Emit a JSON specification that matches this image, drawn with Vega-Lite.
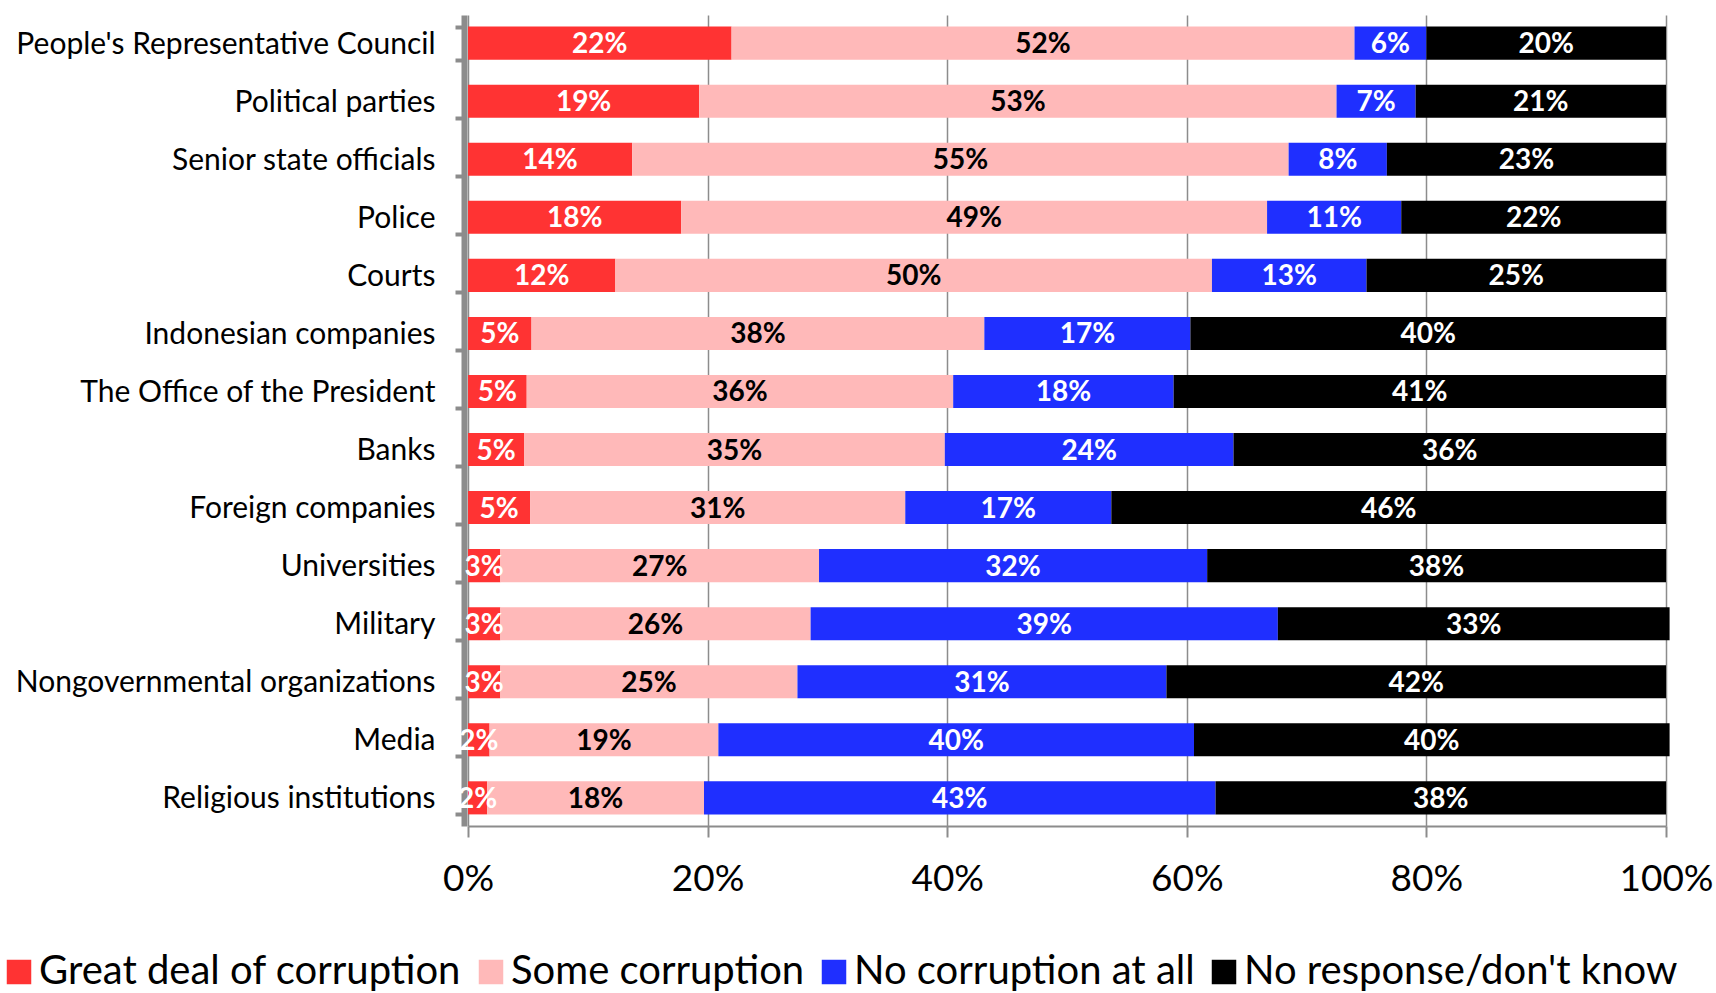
{
  "$schema": "https://vega.github.io/schema/vega-lite/v6.json",
  "width": 1198,
  "height": 811,
  "autosize": {"type": "none"},
  "padding": {"left": 468, "top": 15, "right": 50, "bottom": 167},
  "background": "white",
  "config": {"font": "Lato", "view": {"stroke": null}},
  "data": {"values": [
    {"org": "People's Representative Council", "cat": "Great deal of corruption", "v": 22.0},
    {"org": "People's Representative Council", "cat": "Some corruption", "v": 52.0},
    {"org": "People's Representative Council", "cat": "No corruption at all", "v": 6.0},
    {"org": "People's Representative Council", "cat": "No response/don't know", "v": 20.0},
    {"org": "Political parties", "cat": "Great deal of corruption", "v": 19.3},
    {"org": "Political parties", "cat": "Some corruption", "v": 53.2},
    {"org": "Political parties", "cat": "No corruption at all", "v": 6.6},
    {"org": "Political parties", "cat": "No response/don't know", "v": 20.9},
    {"org": "Senior state officials", "cat": "Great deal of corruption", "v": 13.7},
    {"org": "Senior state officials", "cat": "Some corruption", "v": 54.8},
    {"org": "Senior state officials", "cat": "No corruption at all", "v": 8.2},
    {"org": "Senior state officials", "cat": "No response/don't know", "v": 23.3},
    {"org": "Police", "cat": "Great deal of corruption", "v": 17.8},
    {"org": "Police", "cat": "Some corruption", "v": 48.9},
    {"org": "Police", "cat": "No corruption at all", "v": 11.2},
    {"org": "Police", "cat": "No response/don't know", "v": 22.1},
    {"org": "Courts", "cat": "Great deal of corruption", "v": 12.3},
    {"org": "Courts", "cat": "Some corruption", "v": 49.8},
    {"org": "Courts", "cat": "No corruption at all", "v": 12.9},
    {"org": "Courts", "cat": "No response/don't know", "v": 25.0},
    {"org": "Indonesian companies", "cat": "Great deal of corruption", "v": 5.3},
    {"org": "Indonesian companies", "cat": "Some corruption", "v": 37.8},
    {"org": "Indonesian companies", "cat": "No corruption at all", "v": 17.2},
    {"org": "Indonesian companies", "cat": "No response/don't know", "v": 39.7},
    {"org": "The Office of the President", "cat": "Great deal of corruption", "v": 4.9},
    {"org": "The Office of the President", "cat": "Some corruption", "v": 35.6},
    {"org": "The Office of the President", "cat": "No corruption at all", "v": 18.4},
    {"org": "The Office of the President", "cat": "No response/don't know", "v": 41.1},
    {"org": "Banks", "cat": "Great deal of corruption", "v": 4.7},
    {"org": "Banks", "cat": "Some corruption", "v": 35.1},
    {"org": "Banks", "cat": "No corruption at all", "v": 24.1},
    {"org": "Banks", "cat": "No response/don't know", "v": 36.1},
    {"org": "Foreign companies", "cat": "Great deal of corruption", "v": 5.2},
    {"org": "Foreign companies", "cat": "Some corruption", "v": 31.3},
    {"org": "Foreign companies", "cat": "No corruption at all", "v": 17.2},
    {"org": "Foreign companies", "cat": "No response/don't know", "v": 46.3},
    {"org": "Universities", "cat": "Great deal of corruption", "v": 2.7},
    {"org": "Universities", "cat": "Some corruption", "v": 26.6},
    {"org": "Universities", "cat": "No corruption at all", "v": 32.4},
    {"org": "Universities", "cat": "No response/don't know", "v": 38.3},
    {"org": "Military", "cat": "Great deal of corruption", "v": 2.7},
    {"org": "Military", "cat": "Some corruption", "v": 25.9},
    {"org": "Military", "cat": "No corruption at all", "v": 39.0},
    {"org": "Military", "cat": "No response/don't know", "v": 32.7},
    {"org": "Nongovernmental organizations", "cat": "Great deal of corruption", "v": 2.7},
    {"org": "Nongovernmental organizations", "cat": "Some corruption", "v": 24.8},
    {"org": "Nongovernmental organizations", "cat": "No corruption at all", "v": 30.8},
    {"org": "Nongovernmental organizations", "cat": "No response/don't know", "v": 41.7},
    {"org": "Media", "cat": "Great deal of corruption", "v": 1.8},
    {"org": "Media", "cat": "Some corruption", "v": 19.1},
    {"org": "Media", "cat": "No corruption at all", "v": 39.7},
    {"org": "Media", "cat": "No response/don't know", "v": 39.7},
    {"org": "Religious institutions", "cat": "Great deal of corruption", "v": 1.6},
    {"org": "Religious institutions", "cat": "Some corruption", "v": 18.1},
    {"org": "Religious institutions", "cat": "No corruption at all", "v": 42.7},
    {"org": "Religious institutions", "cat": "No response/don't know", "v": 37.6}
  ]},
  "transform": [
    {"calculate": "indexof(['Great deal of corruption','Some corruption','No corruption at all',\"No response/don't know\"], datum.cat)", "as": "k"},
    {"stack": "v", "groupby": ["org"], "sort": [{"field": "k", "order": "ascending"}], "as": ["v0", "v1"]},
    {"calculate": "(datum.v0 + datum.v1) / 2", "as": "mid"},
    {"calculate": "format(datum.v, '.0f') + '%'", "as": "lab"}
  ],
  "encoding": {
    "y": {
      "field": "org",
      "type": "nominal",
      "sort": ["People's Representative Council", "Political parties", "Senior state officials", "Police", "Courts", "Indonesian companies", "The Office of the President", "Banks", "Foreign companies", "Universities", "Military", "Nongovernmental organizations", "Media", "Religious institutions"],
      "scale": {"paddingInner": 0.43, "paddingOuter": 0.2},
      "axis": {
        "title": null,
        "offset": 4,
        "domainColor": "#8c8c8c",
        "domainWidth": 6,
        "tickBand": "extent",
        "tickColor": "#8c8c8c",
        "tickWidth": 4,
        "tickSize": 9,
        "labelPadding": 20,
        "labelFontSize": 30,
        "labelOffset": 1,
        "labelLimit": 0,
        "labelExpr": "datum.label == \"People's Representative Council\" ? datum.label + '\u00a0' : datum.label",
        "labelColor": "#000000",
        "labelFont": "Lato",
        "grid": false
      }
    }
  },
  "layer": [
    {
      "mark": {"type": "bar"},
      "encoding": {
        "x": {
          "field": "v0",
          "type": "quantitative",
          "scale": {"domain": [0, 100], "nice": false},
          "axis": {
            "title": null,
            "values": [0, 20, 40, 60, 80, 100],
            "labelExpr": "datum.value + '%'",
            "labelFlush": false,
            "labelFontSize": 37,
            "labelColor": "#000000",
            "labelPadding": 24,
            "domainColor": "#8c8c8c",
            "domainWidth": 2,
            "tickColor": "#8c8c8c",
            "tickWidth": 2,
            "tickSize": 11,
            "grid": true,
            "gridColor": "#8c8c8c",
            "gridWidth": 1.5,
            "gridOpacity": 1
          }
        },
        "x2": {"field": "v1"},
        "color": {
          "field": "cat",
          "type": "nominal",
          "scale": {
            "domain": ["Great deal of corruption", "Some corruption", "No corruption at all", "No response/don't know"],
            "range": ["#ff3333", "#ffb9b9", "#1f2fff", "#000000"]
          },
          "legend": {
            "title": null,
            "orient": "none",
            "direction": "horizontal",
            "columns": 4,
            "legendX": -469,
            "legendY": 937,
            "symbolType": "square",
            "symbolSize": 600,
            "symbolStrokeWidth": 0,
            "symbolOpacity": 1,
            "labelFontSize": 40,
            "labelColor": "#000000",
            "labelOffset": 0,
            "columnPadding": 9,
            "labelLimit": 0
          }
        }
      }
    },
    {
      "mark": {"type": "text", "fontWeight": "bold", "fontSize": 28, "baseline": "middle", "align": "center", "dy": 2},
      "encoding": {
        "x": {"field": "mid", "type": "quantitative"},
        "text": {"field": "lab"},
        "color": {
          "condition": {"test": "datum.cat === 'Some corruption'", "value": "#000000"},
          "value": "#ffffff"
        }
      }
    }
  ]
}
